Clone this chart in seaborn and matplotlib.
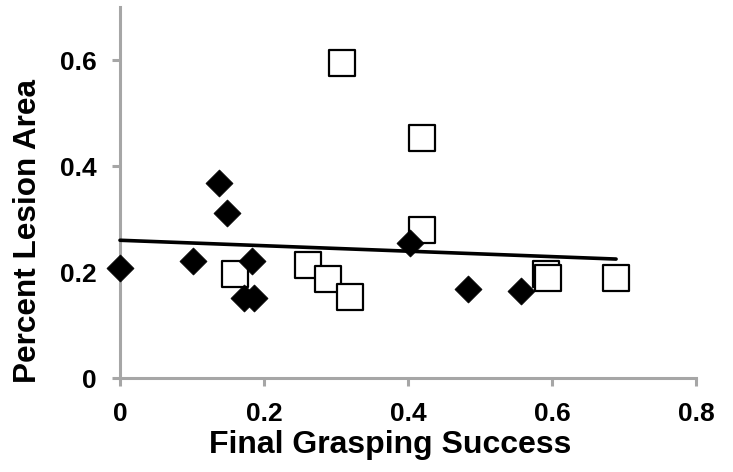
import numpy as np
import pandas as pd
import matplotlib
matplotlib.use("Agg")
import matplotlib.pyplot as plt
import seaborn as sns

# Group A (filled diamonds)
diamond_x = [0.0, 0.101, 0.137, 0.149, 0.183, 0.172, 0.186, 0.403, 0.483, 0.557]
diamond_y = [0.207, 0.221, 0.368, 0.312, 0.221, 0.151, 0.151, 0.255, 0.168, 0.165]
# Group B (open squares)
square_x = [0.160, 0.261, 0.289, 0.320, 0.308, 0.419, 0.419, 0.592, 0.594, 0.689]
square_y = [0.197, 0.214, 0.187, 0.153, 0.594, 0.453, 0.280, 0.196, 0.188, 0.189]

x_ticks = [0, 0.2, 0.4, 0.6, 0.8]
x_tick_labels = ["0", "0.2", "0.4", "0.6", "0.8"]
y_ticks = [0, 0.2, 0.4, 0.6]
y_tick_labels = ["0", "0.2", "0.4", "0.6"]

sns.set_style("white")
plt.rcParams['font.family'] = ['Liberation Sans', 'DejaVu Sans']
plt.rcParams['text.color'] = 'black'
plt.rcParams['xtick.color'] = 'black'
plt.rcParams['ytick.color'] = 'black'
plt.rcParams['axes.labelcolor'] = 'black'

fig = plt.figure(figsize=(7.33, 4.72), dpi=100)
ax = fig.add_axes([0.1637, 0.199, 0.9495 - 0.1637, 0.985 - 0.199])

df_d = pd.DataFrame({"x": diamond_x, "y": diamond_y})
df_s = pd.DataFrame({"x": square_x, "y": square_y})

sns.scatterplot(data=df_s, x="x", y="y", marker="s", s=330, facecolor="white",
                edgecolor="black", linewidth=1.6, ax=ax, zorder=3, clip_on=False)
sns.scatterplot(data=df_d, x="x", y="y", marker="D", s=190, color="black",
                edgecolor="black", linewidth=0.5, ax=ax, zorder=4, clip_on=False)

# linear trendline over all points
all_x = np.array(diamond_x + square_x)
all_y = np.array(diamond_y + square_y)
slope, intercept = np.polyfit(all_x, all_y, 1)
xs = np.array([all_x.min(), all_x.max()])
ax.plot(xs, slope * xs + intercept, color="black", lw=2.6, zorder=5,
        solid_capstyle="round", clip_on=False)

ax.set_xlim(0, 0.8)
ax.set_ylim(0, 0.7)
ax.set_xticks(x_ticks)
ax.set_xticklabels(x_tick_labels)
ax.set_yticks(y_ticks)
ax.set_yticklabels(y_tick_labels)

for side in ["top", "right"]:
    ax.spines[side].set_visible(False)
for side in ["left", "bottom"]:
    ax.spines[side].set_color("#a6a6a6")
    ax.spines[side].set_linewidth(2.2)
    ax.spines[side].set_zorder(1)

ax.tick_params(axis="both", which="major", direction="out", length=6, width=2.2,
               color="#a6a6a6", labelcolor="black", labelsize=19,
               bottom=True, left=True)
ax.tick_params(axis="x", pad=11)
ax.tick_params(axis="y", pad=11)
for lab in ax.get_xticklabels() + ax.get_yticklabels():
    lab.set_fontweight("bold")

ax.set_xlabel("Final Grasping Success", fontsize=23, fontweight="bold")
ax.xaxis.set_label_coords(0.469, -0.140)
ax.set_ylabel("Percent Lesion Area", fontsize=22.7, fontweight="bold")
ax.yaxis.set_label_coords(-0.134, 0.396)

fig.savefig("out.png", dpi=100)
